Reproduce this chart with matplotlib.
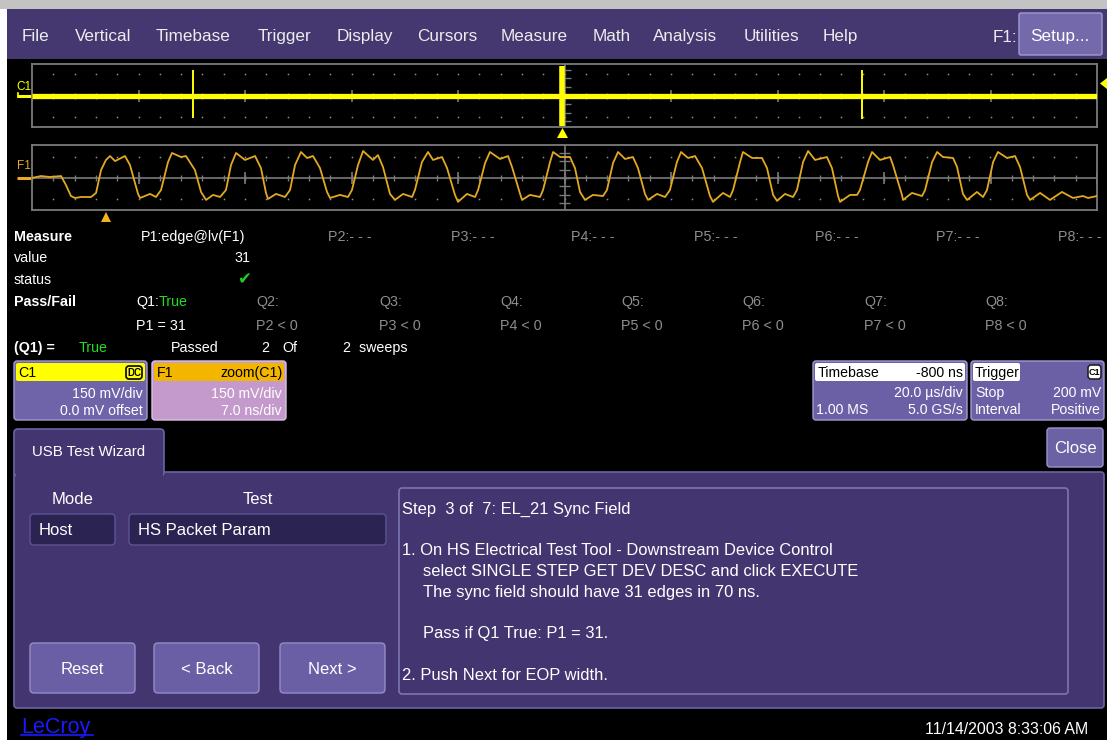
import matplotlib
matplotlib.use('Agg')
import matplotlib.pyplot as plt
from matplotlib import font_manager
from matplotlib.patches import Rectangle, FancyBboxPatch, Polygon
import numpy as np

W, H = 1107, 740

# ---- values ----
MENU_ITEMS = ['File', 'Vertical', 'Timebase', 'Trigger', 'Display', 'Cursors',
              'Measure', 'Math', 'Analysis', 'Utilities', 'Help']

# C1: 20 us/div, 150 mV/div, flat trace with three packet bursts
C1_T_US = [-100.0, 100.0]
C1_MV = [0.0, 0.0]
C1_BURST_T_US = [-69.8, -0.5, 55.9]
C1_BURST_HI_MV = [178, 205, 175]
C1_BURST_LO_MV = [-160, -210, -165]

# F1 = zoom(C1): 7 ns/div, 150 mV/div, the USB sync field
F1_T_NS = [
    0.00, 0.59, 1.18, 1.91, 2.23,
    2.56, 2.83, 3.22, 3.88, 4.21,
    4.54, 4.86, 5.13, 5.46, 6.11,
    6.44, 6.97, 7.10, 7.76, 8.15,
    8.48, 8.94, 9.20, 9.79, 10.12,
    10.71, 11.11, 11.44, 11.90, 12.36,
    12.75, 13.08, 13.41, 14.00, 14.66,
    15.05, 15.38, 15.51, 16.04, 16.63,
    16.96, 17.29, 17.68, 18.08, 18.47,
    18.93, 19.39, 19.59, 20.24, 20.77,
    21.03, 21.43, 21.76, 22.41, 22.74,
    23.07, 23.53, 23.86, 24.39, 24.98,
    25.17, 25.63, 26.03, 26.36, 26.95,
    27.28, 27.80, 28.00, 28.59, 29.12,
    29.32, 29.78, 30.10, 30.76, 31.29,
    31.55, 32.08, 32.21, 32.73, 33.39,
    33.59, 34.05, 34.25, 34.71, 35.36,
    35.69, 36.02, 36.35, 36.87, 37.53,
    37.79, 38.19, 38.52, 38.98, 39.50,
    39.83, 40.29, 40.49, 41.08, 41.61,
    41.93, 42.39, 42.66, 43.12, 43.58,
    44.04, 44.56, 44.76, 45.42, 45.88,
    46.08, 46.54, 46.73, 47.33, 47.98,
    48.31, 48.71, 48.97, 49.49, 50.02,
    50.28, 50.68, 51.01, 51.47, 52.25,
    52.58, 52.98, 53.11, 53.77, 54.23,
    54.42, 54.95, 55.21, 55.74, 56.40,
    56.59, 57.18, 57.25, 57.84, 58.50,
    58.70, 59.16, 59.49, 59.88, 60.54,
    60.80, 61.19, 61.46, 62.11, 62.51,
    62.77, 63.17, 63.49, 64.09, 64.61,
    64.94, 65.40, 65.60, 66.26, 66.91,
    67.70, 68.42, 69.08, 69.41, 70.00,
]
F1_MV = [
    0, 14, 7, 14, -50,
    -129, -143, -136, -136, -107,
    57, 129, 157, 121, 157,
    93, -114, -143, -114, -136,
    -86, 114, 179, 150, 157,
    57, -100, -157, -121, -136,
    -86, 93, 179, 129, 157,
    71, -107, -150, -114, -136,
    -86, 93, 186, 143, 157,
    71, -100, -143, -121, -136,
    -86, 93, 193, 129, 164,
    79, -114, -157, -114, -136,
    -86, 114, 186, 129, 150,
    71, -121, -171, -114, -136,
    -86, 107, 186, 136, 157,
    79, -114, -157, -121, -136,
    -86, 114, 186, 150, 150,
    71, -100, -157, -121, -129,
    -86, 107, 186, 136, 150,
    71, -114, -157, -114, -136,
    -86, 114, 186, 143, 157,
    71, -129, -171, -107, -136,
    -86, 114, 186, 143, 143,
    71, -121, -164, -114, -136,
    -86, 114, 193, 129, 150,
    71, -129, -171, -121, -121,
    -86, 114, 186, 129, 150,
    93, -121, -157, -107, -129,
    -86, 114, 186, 150, 143,
    79, -114, -157, -100, -136,
    -86, 114, 186, 143, 157,
    79, -121, -157, -107, -157,
    -100, -143, -129, -143, -129,
]
assert len(F1_T_NS) == len(F1_MV)

P_LABELS = ['P1:edge@lv(F1)', 'P2:- - -', 'P3:- - -', 'P4:- - -',
            'P5:- - -', 'P6:- - -', 'P7:- - -', 'P8:- - -']
Q_LABELS = ['Q1:', 'Q2:', 'Q3:', 'Q4:', 'Q5:', 'Q6:', 'Q7:', 'Q8:']
Q_CONDITIONS = ['P1 = 31', 'P2 < 0', 'P3 < 0', 'P4 < 0',
                'P5 < 0', 'P6 < 0', 'P7 < 0', 'P8 < 0']
P1_VALUE = 31
SWEEPS_PASSED = 2
SWEEPS_TOTAL = 2

STEP_LINES = [
    'Step  3 of  7: EL_21 Sync Field',
    '',
    '1. On HS Electrical Test Tool - Downstream Device Control',
    '    select SINGLE STEP GET DEV DESC and click EXECUTE',
    '    The sync field should have 31 edges in 70 ns.',
    '',
    '    Pass if Q1 True: P1 = 31.',
    '',
    '2. Push Next for EOP width.',
]

# ---- fonts ----
installed = {f.name for f in font_manager.fontManager.ttflist}
NARROW = 'Liberation Sans Narrow' if 'Liberation Sans Narrow' in installed else 'Liberation Sans'
PT = 100 / 72.0

PURPLE = '#433670'
EDGE = '#6d63a3'
GREY_TXT = '#8e8e8e'
GREEN = '#22dd22'

fig = plt.figure(figsize=(W / 100, H / 100), dpi=100, facecolor='white')
ui = fig.add_axes([0, 0, 1, 1])
ui.set_xlim(0, W)
ui.set_ylim(H, 0)
ui.axis('off')


def rect(x0, y0, x1, y1, fc, ec=None, lw=0.0, r=0, z=1):
    if r:
        p = FancyBboxPatch((x0, y0), x1 - x0, y1 - y0,
                           boxstyle='round,pad=0,rounding_size=%g' % r,
                           fc=fc, ec=ec or fc, lw=lw, zorder=z)
    else:
        p = Rectangle((x0, y0), x1 - x0, y1 - y0, fc=fc, ec=ec or fc, lw=lw, zorder=z)
    ui.add_patch(p)


def txt(x, y, s, size=12, color='white', ha='left', weight='normal', family=None, z=5):
    # y = middle of the capitals, in screen pixels
    base = y + 0.36 * size * PT
    return ui.text(x, base, s, fontsize=size, color=color, ha=ha, va='baseline',
                   fontweight=weight, family=family or NARROW, zorder=z)


# ---- background and menu bar ----
rect(7, 9, W, H, 'black', z=0)
rect(0, 0, W, 9, '#c3c3c3')
rect(7, 9, W, 59, '#453871')
menu_x = [22, 75, 156, 258, 337, 417, 501, 593, 653, 744, 823]
for name, x in zip(MENU_ITEMS, menu_x):
    txt(x, 35, name, 12.3, '#ececec')
txt(993, 36, 'F1:', 12.3, '#ececec')
rect(1019, 13, 1102, 55, '#7469aa', ec='#a39bd0', lw=1, r=2)
txt(1060, 35, 'Setup...', 12.3, ha='center')


# ---- trace grids ----
def scope_axes(y0, y1, xlim, ylim, xdiv, ydiv):
    ax = fig.add_axes([32 / W, 1 - y1 / H, (1097 - 32) / W, (y1 - y0) / H])
    ax.set_facecolor('none')
    ax.set_xlim(xlim)
    ax.set_ylim(ylim)
    ax.set_xticks([])
    ax.set_yticks([])
    for s in ax.spines.values():
        s.set_color('#7a7a7a')
        s.set_linewidth(1.3)
    ypx = (ylim[1] - ylim[0]) / (y1 - y0)
    xpx = (xlim[1] - xlim[0]) / 1065.0
    mid = 0.5 * (xlim[0] + xlim[1])
    minor = np.arange(xlim[0], xlim[1] + 1e-9, xdiv / 5.0)
    major = np.arange(xlim[0], xlim[1] + 1e-9, xdiv)
    for yy in (ydiv, -ydiv):
        ax.plot(minor[1:-1], np.full(len(minor) - 2, yy), ls='none', marker='s',
                ms=1.1, mew=0, color='#909090', zorder=1)
    ax.axhline(0, color='#7a7a7a', lw=1.2, zorder=1)
    ax.axvline(mid, color='#7a7a7a', lw=1.2, zorder=1)
    ax.vlines(minor, -3 * ypx, 3 * ypx, colors='#7a7a7a', lw=1.0, zorder=1)
    ax.vlines(major, -6 * ypx, 6 * ypx, colors='#7a7a7a', lw=1.2, zorder=1)
    yt = np.arange(-3, 4) * 0.4 * ydiv
    ax.hlines(yt, mid - 6 * xpx, mid + 6 * xpx, colors='#7a7a7a', lw=1.0, zorder=1)
    return ax


ax_c1 = scope_axes(64, 127, (-100, 100), (-220, 220), 20, 150)
ax_c1.plot(C1_T_US, C1_MV, color='#ffff00', lw=3.8, solid_capstyle='butt', zorder=3)
ax_c1.vlines(C1_BURST_T_US, C1_BURST_LO_MV, C1_BURST_HI_MV, colors='#ffff00',
             lw=[1.4, 4.0, 1.4], zorder=3)

ax_f1 = scope_axes(145, 210, (0, 70), (-229, 236), 7, 150)
ax_f1.plot(F1_T_NS, F1_MV, color='#e3a91f', lw=1.3, solid_joinstyle='round', zorder=3)

# channel markers
txt(16, 86, 'C1', 8.5, '#ffff00')
ui.plot([17, 32], [95.5, 95.5], color='#ffff00', lw=2.2, solid_capstyle='butt')
ui.plot([18, 18], [93, 97], color='#ffff00', lw=1.2)
txt(17, 165, 'F1', 8.5, '#e8aa22')
ui.plot([17, 32], [178, 178], color='#e8aa22', lw=2.2, solid_capstyle='butt')
ui.add_patch(Polygon([(557, 138), (568, 138), (562.5, 128)], closed=True, fc='#ffff00', ec='none'))
ui.add_patch(Polygon([(1107, 78), (1107, 89), (1100, 83.5)], closed=True, fc='#ffff00', ec='none'))
ui.add_patch(Polygon([(101, 222), (111, 222), (106, 212)], closed=True, fc='#f2b323', ec='none'))

# ---- measurement table ----
TS = 10.3
p_x = [141, 328, 451, 571, 694, 815, 936, 1058]
q_x = [136, 256, 379, 500, 621, 742, 864, 985]
txt(14, 236, 'Measure', TS, weight='bold')
for i, (lab, x) in enumerate(zip(P_LABELS, p_x)):
    txt(x, 236, lab, TS, 'white' if i == 0 else GREY_TXT)
txt(14, 257, 'value', TS)
txt(250, 257, str(P1_VALUE), TS, ha='right')
txt(14, 279, 'status', TS)
ui.text(244, 279, '\u2714', fontsize=12, color='#22cc22', ha='center', va='center',
        family='DejaVu Sans', zorder=5)
txt(14, 301, 'Pass/Fail', TS, weight='bold')
for i, (lab, cond, x) in enumerate(zip(Q_LABELS, Q_CONDITIONS, q_x)):
    c = 'white' if i == 0 else GREY_TXT
    txt(x, 301, lab, TS, c)
    txt(x, 325, cond, TS, c)
txt(159, 301, 'True', TS, GREEN)
txt(14, 347, '(Q1) =', TS, weight='bold')
txt(79, 347, 'True', TS, GREEN)
txt(171, 347, 'Passed', TS)
txt(261, 347, str(SWEEPS_PASSED), TS)
txt(282, 347, 'Of', TS)
txt(343, 347, '%d  sweeps' % SWEEPS_TOTAL, TS)

# ---- descriptor boxes ----
BS = 10.2
rect(14, 361, 147, 420, '#6f63a9', ec='#a49cd2', lw=1, r=3)
rect(16, 363, 145, 381, '#ffff00', r=2, z=2)
txt(18, 372, 'C1', BS, 'black')
rect(126, 366, 142, 379, '#ffff00', ec='black', lw=1.2, r=3, z=3)
txt(134, 372.5, 'DC', 7, 'black', ha='center', weight='bold')
txt(143, 393, '150 mV/div', BS, ha='right')
txt(143, 410, '0.0 mV offset', BS, ha='right')

rect(152, 361, 286, 420, '#c49acc', ec='#dcc2e2', lw=1, r=3)
rect(154, 363, 284, 381, '#f2b600', r=2, z=2)
txt(157, 372, 'F1', BS, 'black')
txt(283, 372, 'zoom(C1)', BS, 'black', ha='right')
txt(282, 393, '150 mV/div', BS, ha='right')
txt(282, 410, '7.0 ns/div', BS, ha='right')

rect(813, 361, 967, 420, '#6b5fa6', ec='#a49cd2', lw=1, r=3)
rect(815, 363, 965, 381, 'white', r=2, z=2)
txt(818, 372, 'Timebase', BS, 'black')
txt(963, 372, '-800 ns', BS, 'black', ha='right')
txt(963, 392, '20.0 \u00b5s/div', BS, ha='right')
txt(816, 409, '1.00 MS', BS)
txt(963, 409, '5.0 GS/s', BS, ha='right')

rect(971, 361, 1104, 420, '#6b5fa6', ec='#a49cd2', lw=1, r=3)
rect(973, 363, 1020, 381, 'white', r=2, z=2)
txt(975, 372, 'Trigger', BS, 'black')
rect(1088, 365, 1101, 379, 'white', ec='#222222', lw=1.2, r=3, z=3)
txt(1094.5, 372, 'C1', 6.5, 'black', ha='center', weight='bold')
txt(975, 392, 'Stop', BS)
txt(1101, 392, '200 mV', BS, ha='right')
txt(975, 409, 'Interval', BS)
txt(1101, 409, 'Positive', BS, ha='right')

# ---- wizard panel ----
WS = 12
rect(14, 472, 1104, 708, PURPLE, ec=EDGE, lw=1.2, r=3)
rect(14, 429, 164, 476, PURPLE, ec=EDGE, lw=1.2, r=4, z=2)
rect(15.5, 466, 162.5, 478, PURPLE, z=3)
txt(32, 451, 'USB Test Wizard', 10.8)
rect(1047, 428, 1103, 467, '#6b61a5', ec='#9d95cc', lw=1, r=3)
txt(1075, 447, 'Close', WS, ha='center')

txt(73, 498, 'Mode', WS, ha='center')
txt(258, 498, 'Test', WS, ha='center')
rect(30, 514, 115, 545, '#2b2352', ec='#5d5494', lw=1, r=4, z=2)
txt(39, 529, 'Host', WS)
rect(129, 514, 386, 545, '#2b2352', ec='#5d5494', lw=1, r=4, z=2)
txt(138, 529, 'HS Packet Param', WS)

rect(399, 488, 1068, 694, PURPLE, ec='#7d74b4', lw=1.2, r=3, z=2)
for k, line in enumerate(STEP_LINES):
    if line:
        indent = 423 if line.startswith('    ') else 402
        txt(indent, 508 + 20.75 * k, line.strip(), 11.9)

for label, x0, x1 in [('Reset', 30, 135), ('< Back', 154, 259), ('Next >', 280, 385)]:
    rect(x0, 643, x1, 693, '#6a5fa4', ec='#958dc6', lw=1, r=4, z=2)
    txt(0.5 * (x0 + x1), 668, label, WS, ha='center')

# ---- footer ----
txt(21, 725, 'LeCroy', 15.5, '#1a1aff', family='Liberation Sans')
ui.plot([21, 93], [735, 735], color='#1a1aff', lw=1.2)
txt(1088, 728, '11/14/2003 8:33:06 AM', 11.4, ha='right')

fig.savefig('out.png', dpi=100, facecolor=fig.get_facecolor())
